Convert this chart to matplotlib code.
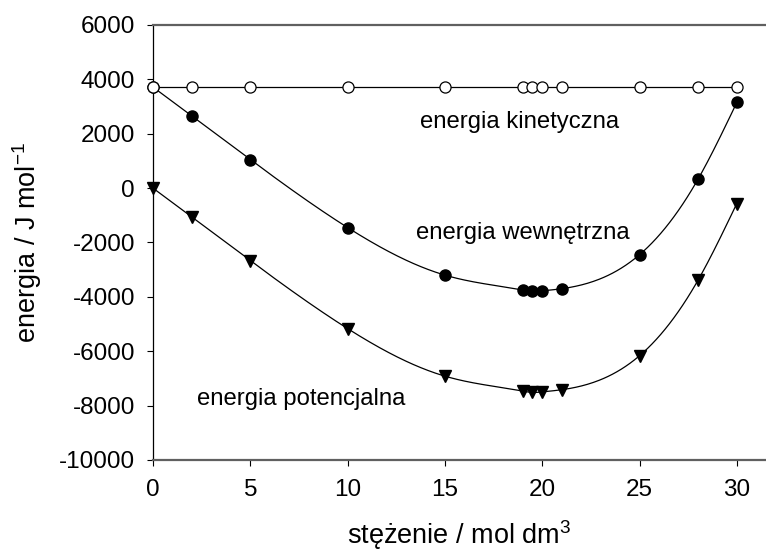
import matplotlib
matplotlib.use("Agg")
import matplotlib.pyplot as plt
import numpy as np

plt.rcParams['font.family'] = ['Liberation Sans', 'DejaVu Sans']
plt.rcParams['mathtext.fontset'] = 'custom'
plt.rcParams['mathtext.rm'] = 'Liberation Sans'
plt.rcParams['mathtext.it'] = 'Liberation Sans:italic'
plt.rcParams['axes.unicode_minus'] = False

# stezenie / mol dm3
conc = [0, 2, 5, 10, 15, 19, 19.5, 20, 21, 25, 28, 30]
# energia kinetyczna (stala)
e_kin = [3716] * len(conc)
# energia wewnetrzna
e_int = [3716, 2650, 1050, -1450, -3200, -3750, -3800, -3780, -3700, -2450, 320, 3150]
# energia potencjalna
e_pot = [0, -1066, -2666, -5166, -6916, -7466, -7516, -7496, -7416, -6166, -3396, -566]

xticks = [0, 5, 10, 15, 20, 25, 30]
yticks = [-10000, -8000, -6000, -4000, -2000, 0, 2000, 4000, 6000]


def natural_spline(x, y, n=400):
    # prosty naturalny spline kubiczny, tylko do gladkiej linii
    x = np.asarray(x, float)
    y = np.asarray(y, float)
    k = len(x)
    h = np.diff(x)
    A = np.zeros((k, k))
    b = np.zeros(k)
    A[0, 0] = 1
    A[-1, -1] = 1
    for i in range(1, k - 1):
        A[i, i - 1] = h[i - 1]
        A[i, i] = 2 * (h[i - 1] + h[i])
        A[i, i + 1] = h[i]
        b[i] = 3 * ((y[i + 1] - y[i]) / h[i] - (y[i] - y[i - 1]) / h[i - 1])
    c = np.linalg.solve(A, b)
    xs = np.linspace(x[0], x[-1], n)
    idx = np.clip(np.searchsorted(x, xs) - 1, 0, k - 2)
    dx = xs - x[idx]
    hi = h[idx]
    bi = (y[idx + 1] - y[idx]) / hi - hi * (2 * c[idx] + c[idx + 1]) / 3
    di = (c[idx + 1] - c[idx]) / (3 * hi)
    ys = y[idx] + bi * dx + c[idx] * dx ** 2 + di * dx ** 3
    return xs, ys


fig = plt.figure(figsize=(7.66, 5.53), dpi=100)
ax = fig.add_axes([0.1997, 0.1682, 0.8003, 0.7866])

xs, ys = natural_spline(conc, e_pot)
ax.plot(xs, ys, color='black', lw=0.9, zorder=2)
ax.plot(conc, e_pot, 'v', color='black', ms=8.5, zorder=3, clip_on=False)

xs, ys = natural_spline(conc, e_int)
ax.plot(xs, ys, color='black', lw=0.9, zorder=2)
ax.plot(conc, e_int, 'o', color='black', ms=8, zorder=3, clip_on=False)

ax.plot(conc, e_kin, '-o', color='black', lw=0.9, ms=8, mfc='white',
        mec='black', mew=0.9, zorder=4, clip_on=False)

ax.text(13.7, 2430, 'energia kinetyczna', fontsize=17.2, va='center', ha='left')
ax.text(13.5, -1660, 'energia wewnętrzna', fontsize=17.2, va='center', ha='left')
ax.text(2.25, -7770, 'energia potencjalna', fontsize=17.2, va='center', ha='left')

ax.set_xlim(0, 31.5)
ax.set_ylim(-10000, 6000)
ax.set_xticks(xticks)
ax.set_yticks(yticks)
ax.tick_params(direction='out', length=4, width=0.8, labelsize=17.5)
ax.tick_params(axis='y', pad=9)
ax.tick_params(axis='x', pad=10)

ax.spines['right'].set_visible(False)
ax.spines['left'].set_color('black')
ax.spines['left'].set_linewidth(0.9)
for s in ['top', 'bottom']:
    ax.spines[s].set_color('#606060')
    ax.spines[s].set_linewidth(1.6)

ax.set_xlabel('stężenie / mol dm$^{3}$', fontsize=19.5, labelpad=12)
ax.set_ylabel('energia / J mol$^{-1}$', fontsize=19.5, labelpad=11)

fig.savefig('out.png', dpi=100)
